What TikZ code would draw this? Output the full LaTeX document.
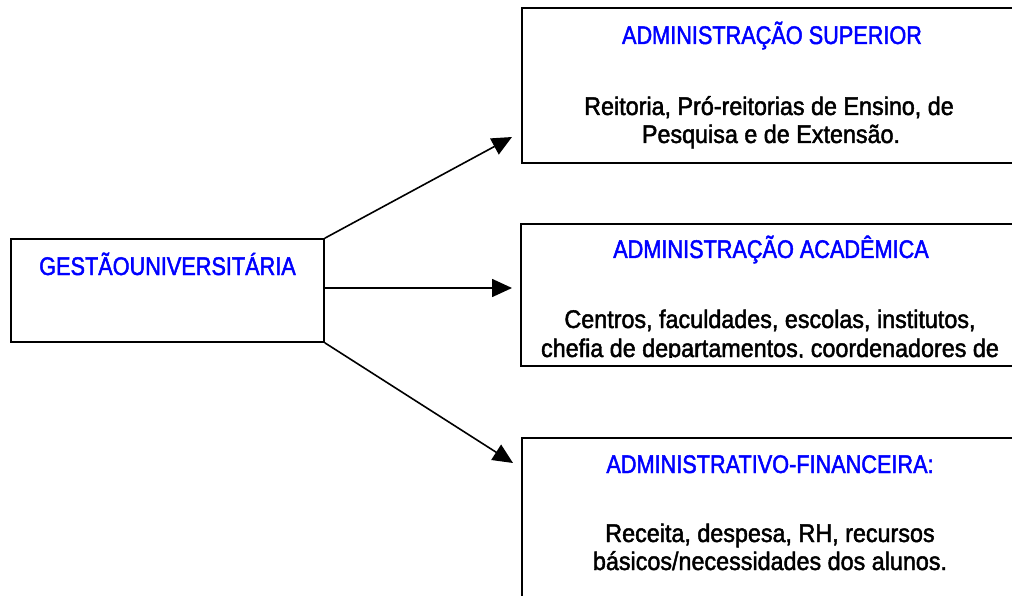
\documentclass[tikz,border=0pt]{standalone}
\usepackage{fontspec}
\setmainfont{Liberation Sans}
\newfontfamily\headfont[FakeStretch=0.85,FakeBold=1.8]{Liberation Sans}
\newfontfamily\bodyfont[FakeStretch=0.915,FakeBold=1.8]{Liberation Sans}
\usetikzlibrary{arrows.meta}
\definecolor{headblue}{RGB}{0,0,255}
\begin{document}
\begin{tikzpicture}[x=1pt,y=-1pt,
  boxstyle/.style={draw=black,line width=1.6pt,rectangle,inner sep=0pt},
  headtxt/.style={anchor=base,inner sep=0pt,text=headblue,font=\headfont\fontsize{25.5}{28}\selectfont},
  bodytxt/.style={anchor=base,inner sep=0pt,text=black,font=\bodyfont\fontsize{25.5}{28}\selectfont},
  conn/.style={line width=1.6pt,-{Triangle[length=20pt,width=18pt]}}]
\useasboundingbox (0,0) rectangle (1012,596);
% boxes
\node[boxstyle,minimum width=313pt,minimum height=103pt] (g) at (167.5,290.5) {};
\node[boxstyle,minimum width=500pt,minimum height=155pt,anchor=north west] (sup) at (521,7) {};
\node[boxstyle,minimum width=500pt,minimum height=142pt,anchor=north west] (aca) at (520,223) {};
\node[boxstyle,minimum width=500pt,minimum height=200pt,anchor=north west] (fin) at (521,437) {};
% texts
\node[headtxt] (gt) at (167.5,275) {GESTÃOUNIVERSITÁRIA};
\node[headtxt] (supt) at (772,44) {ADMINISTRAÇÃO SUPERIOR};
\node[bodytxt] (supb1) at (769,115) {Reitoria, Pró-reitorias de Ensino, de};
\node[bodytxt] (supb2) at (771,143) {Pesquisa e de Extensão.};
\node[headtxt] (acat) at (771,258) {ADMINISTRAÇÃO ACADÊMICA};
\begin{scope}
\clip (522,224) rectangle (1012,357.5);
\node[bodytxt] (acab1) at (770,328) {Centros, faculdades, escolas, institutos,};
\node[bodytxt] (acab2) at (770,357) {chefia de departamentos, coordenadores de};
\end{scope}
\node[headtxt] (fint) at (770,473) {ADMINISTRATIVO-FINANCEIRA:};
\node[bodytxt] (finb1) at (770,542) {Receita, despesa, RH, recursos};
\node[bodytxt] (finb2) at (770,570) {básicos/necessidades dos alunos.};
% connectors
\coordinate (s2) at (324,288);
\coordinate (t1) at (512,137);
\coordinate (t2) at (512,288);
\coordinate (t3) at (513,463);
\draw[conn] (g.north east) -- (t1);
\draw[conn] (s2) -- (t2);
\draw[conn] (g.south east) -- (t3);
\end{tikzpicture}
\end{document}
